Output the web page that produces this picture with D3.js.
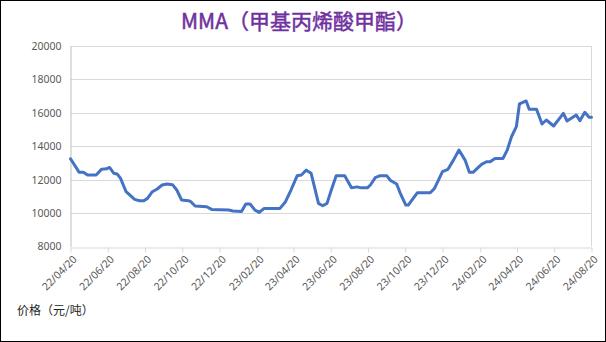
<!DOCTYPE html>
<html>
<head>
<meta charset="utf-8">
<script src="https://cdn.jsdelivr.net/npm/d3@7"></script>
<style>
  html, body { margin: 0; padding: 0; background: #fff; }
  svg { display: block; }
</style>
</head>
<body>
<svg id="chart" width="606" height="342"></svg>
<script>
// MMA price series (yuan/ton)
const dates = [
  "2022-04-20","2022-05-04","2022-05-11","2022-05-18","2022-06-01","2022-06-10","2022-06-18","2022-06-23",
  "2022-06-30","2022-07-06","2022-07-11","2022-07-20","2022-08-03","2022-08-11","2022-08-18","2022-08-24",
  "2022-09-01","2022-09-09","2022-09-17","2022-09-25","2022-10-04","2022-10-11","2022-10-19","2022-10-30",
  "2022-11-03","2022-11-10","2022-11-29","2022-12-07","2023-01-04","2023-01-11","2023-01-25","2023-02-01",
  "2023-02-08","2023-02-16","2023-02-23","2023-03-03","2023-03-29","2023-04-07","2023-04-16","2023-04-26",
  "2023-05-03","2023-05-11","2023-05-19","2023-05-31","2023-06-07","2023-06-14","2023-06-21","2023-06-29",
  "2023-07-13","2023-07-24","2023-08-02","2023-08-09","2023-08-19","2023-08-24","2023-09-01","2023-09-08",
  "2023-09-20","2023-09-26","2023-10-06","2023-10-12","2023-10-21","2023-10-25","2023-11-09","2023-11-18",
  "2023-11-30","2023-12-07","2023-12-20","2023-12-29","2024-01-07","2024-01-16","2024-01-26","2024-02-02",
  "2024-02-08","2024-02-22","2024-03-01","2024-03-07","2024-03-15","2024-03-28","2024-04-04","2024-04-11",
  "2024-04-19","2024-04-24","2024-05-05","2024-05-10","2024-05-22","2024-05-31","2024-06-07","2024-06-19",
  "2024-07-05","2024-07-11","2024-07-26","2024-08-01","2024-08-09","2024-08-16","2024-08-20"
];
const prices = [
  13250,12450,12450,12280,12280,12630,12650,12730,
  12380,12320,12080,11280,10820,10740,10740,10880,
  11280,11440,11680,11740,11700,11380,10780,10740,
  10680,10420,10380,10220,10180,10120,10100,10540,
  10540,10180,10040,10280,10280,10680,11380,12230,
  12280,12570,12380,10580,10440,10580,11380,12230,
  12230,11510,11570,11510,11510,11680,12120,12230,
  12230,11950,11740,11180,10480,10480,11220,11220,
  11220,11480,12480,12620,13170,13770,13170,12440,
  12440,12920,13070,13070,13270,13270,13770,14570,
  15170,16530,16710,16210,16210,15330,15570,15210,
  15970,15510,15870,15530,16030,15730,15730
];
const yTicks = [8000, 10000, 12000, 14000, 16000, 18000, 20000];
const xTickLabels = [
  "22/04/20","22/06/20","22/08/20","22/10/20","22/12/20","23/02/20","23/04/20","23/06/20",
  "23/08/20","23/10/20","23/12/20","24/02/20","24/04/20","24/06/20","24/08/20"
];
const titleText = "MMA（甲基丙烯酸甲酯）";
const unitText = "价格（元/吨）";

const parseDate = d3.timeParse("%Y-%m-%d");
const parseTick = d3.timeParse("%y/%m/%d");
const series = dates.map((d, i) => ({ date: parseDate(d), value: prices[i] }));
const tickDates = xTickLabels.map(parseTick);

const W = 606, H = 342;
const plot = { left: 70.5, right: 591.5, top: 46, bottom: 246.5 };

const svg = d3.select("#chart");
const latin = "'Noto Sans', 'DejaVu Sans', sans-serif";
const cjk = "'Noto Sans CJK SC', 'Noto Sans', sans-serif";

svg.append("rect").attr("x", 0.5).attr("y", 0.5).attr("width", W - 1).attr("height", H - 1)
  .attr("fill", "#fff").attr("stroke", "#000").attr("stroke-width", 1);

const x = d3.scaleTime()
  .domain([tickDates[0], tickDates[tickDates.length - 1]])
  .range([plot.left, plot.right]);
const y = d3.scaleLinear()
  .domain([yTicks[0], yTicks[yTicks.length - 1]])
  .range([plot.bottom, plot.top]);

// horizontal gridlines
svg.append("g").selectAll("line").data(yTicks.slice(1)).join("line")
  .attr("x1", plot.left).attr("x2", plot.right)
  .attr("y1", d => Math.round(y(d)) + 0.5).attr("y2", d => Math.round(y(d)) + 0.5)
  .attr("stroke", "#D9D9D9").attr("stroke-width", 1);

// plot-area right edge
svg.append("line")
  .attr("x1", plot.right).attr("x2", plot.right)
  .attr("y1", plot.top).attr("y2", plot.bottom)
  .attr("stroke", "#D9D9D9");

// y axis
const yAxis = d3.axisLeft(y).tickValues(yTicks).tickSize(0).tickPadding(9).tickFormat(d3.format("d"));
const gy = svg.append("g").attr("transform", `translate(${plot.left},0)`).call(yAxis);
gy.select(".domain").attr("stroke", "#BFBFBF");
gy.selectAll("text").attr("fill", "#595959").style("font-family", latin).style("font-size", "10.5px");

// x axis
const xAxis = d3.axisBottom(x).tickValues(tickDates).tickSize(5).tickSizeOuter(0)
  .tickFormat((d, i) => xTickLabels[i]);
const gx = svg.append("g").attr("transform", `translate(0,${Math.round(plot.bottom) + 0.5})`).call(xAxis);
gx.select(".domain").attr("stroke", "#D9D9D9");
gx.selectAll(".tick line").attr("stroke", "#D9D9D9");
gx.selectAll("text")
  .attr("fill", "#595959").style("font-family", latin).style("font-size", "10.5px")
  .attr("text-anchor", "end")
  .attr("y", 0).attr("dy", "0.35em")
  .attr("transform", "translate(4,10) rotate(-45)");

// price line
const line = d3.line().x(d => x(d.date)).y(d => y(d.value));
svg.append("path").datum(series)
  .attr("d", line)
  .attr("fill", "none")
  .attr("stroke", "#4472C4")
  .attr("stroke-width", 3)
  .attr("stroke-linejoin", "round")
  .attr("stroke-linecap", "round");

// title
svg.append("text").attr("x", 299).attr("y", 29)
  .attr("text-anchor", "middle")
  .attr("fill", "#7030A0")
  .attr("stroke", "#7030A0").attr("stroke-width", 0.5)
  .style("font-family", cjk).style("font-size", "21px")
  .text(titleText);

// unit label
svg.append("text").attr("x", 17).attr("y", 315)
  .attr("fill", "#262626")
  .style("font-family", cjk).style("font-size", "12px")
  .text(unitText);
</script>
</body>
</html>
